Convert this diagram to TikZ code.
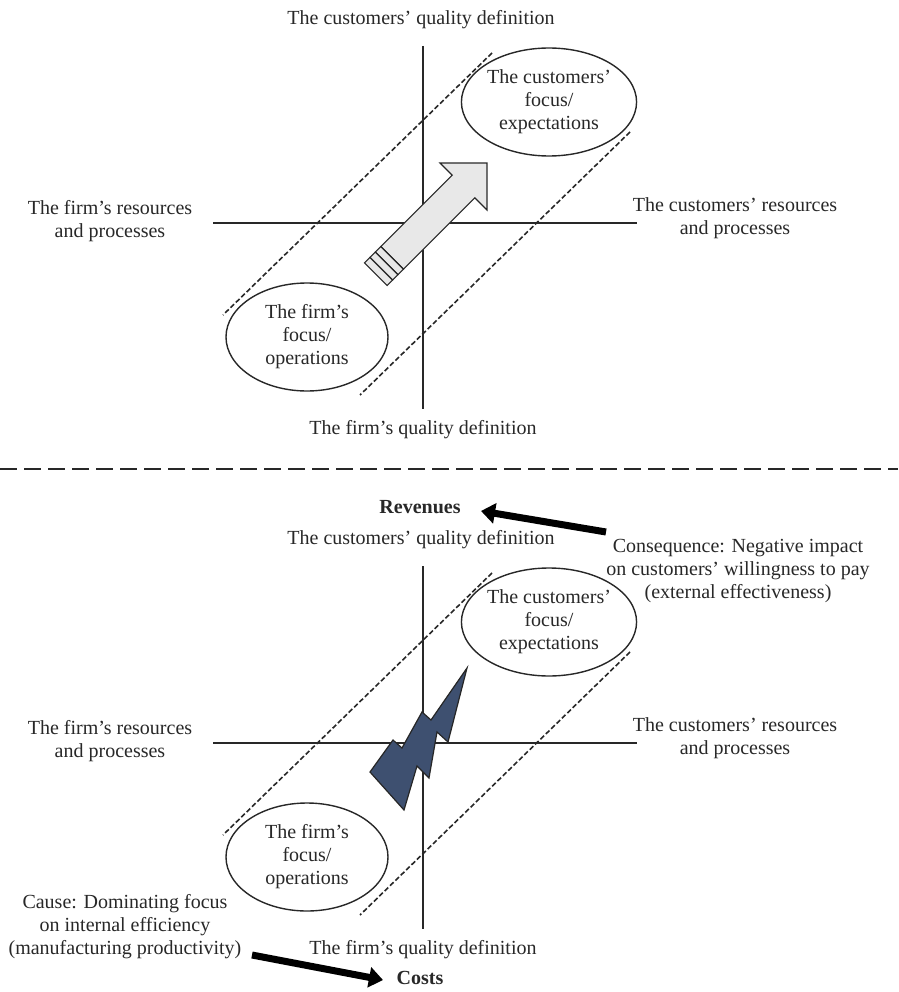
\documentclass[tikz,border=0pt]{standalone}
\usepackage{fontspec}
\setmainfont{Liberation Serif}
\usetikzlibrary{arrows.meta,shapes.geometric}
\definecolor{ink}{RGB}{40,40,40}
\definecolor{boltblue}{RGB}{62,80,112}
\definecolor{arrowgray}{RGB}{232,232,232}
\begin{document}
\begin{tikzpicture}[x=1pt,y=-1pt,
  font=\fontsize{20}{23}\selectfont,
  axis/.style={draw=ink,line width=1.4pt},
  diag/.style={draw=ink,line width=1.6pt,dash pattern=on 5pt off 2.5pt},
  sepline/.style={draw=ink,line width=1.4pt,dash pattern=on 17pt off 7pt},
  focus/.style={ellipse,draw=ink,line width=1.4pt,minimum width=162pt,minimum height=108pt,inner sep=0pt,align=center,text=ink},
  lbl/.style={align=center,text=ink,inner sep=0pt},
  arrowbody/.style={draw=ink,fill=arrowgray,line width=1.2pt,line join=miter},
  boltshape/.style={draw=black!85,fill=boltblue,line width=1.2pt,line join=miter},
  bigarrow/.style={draw=black,line width=7pt,-{Triangle[length=14pt,width=20pt]}}]
\useasboundingbox (0,0) rectangle (898,992);
\fill[white] (0,0) rectangle (898,992);

\foreach \s/\q in {0/t,520/b}{
  \begin{scope}[yshift=-\s pt]
    \coordinate (\q vt) at (423,46);
    \coordinate (\q vb) at (423,409);
    \coordinate (\q hl) at (213,223);
    \coordinate (\q hr) at (637,223);
    \coordinate (\q da) at (492,53);
    \coordinate (\q db) at (223,315);
    \coordinate (\q dc) at (630,132);
    \coordinate (\q dd) at (360,395);
    \draw[axis] (\q vt) -- (\q vb);
    \draw[axis] (\q hl) -- (\q hr);
    \draw[diag] (\q da) -- (\q db);
    \draw[diag] (\q dc) -- (\q dd);
    \node[focus,fill=white] (\q cust) at (549,102) {The customers’\\focus/\\expectations};
    \node[focus,fill=white] (\q firm) at (307,337) {The firm’s\\focus/\\operations};
    \node[lbl] (\q top) at (421,20) {The customers’ quality definition};
    \node[lbl] (\q bot) at (423,430) {The firm’s quality definition};
    \node[lbl] (\q left) at (110,221) {The firm’s resources\\and processes};
    \node[lbl] (\q right) at (735,218) {The customers’ resources\\and processes};
  \end{scope}
}

% top: striped block arrow
\begin{scope}[shift={(463.5,186.5)},rotate=45]
  \draw[arrowbody] (33.2,0) -- (0,33.2) -- (0,16) -- (-101,16) -- (-101,-16) -- (0,-16) -- (0,-33.2) -- cycle;
  \draw[arrowbody] (-101,-16) rectangle (-108.7,16);
  \draw[arrowbody] (-108.7,-16) rectangle (-116.3,16);
  \draw[arrowbody] (-116.3,-16) rectangle (-124,16);
\end{scope}

% separator
\coordinate (sepL) at (0,469);
\coordinate (sepR) at (898,469);
\draw[sepline] (sepL) -- (sepR);

% bottom: lightning bolt
\draw[boltshape] (467,668) -- (448,742) -- (437,732) -- (429,778) -- (417,766) -- (404,810)
  -- (370,772) -- (393,740) -- (402,748) -- (422,712) -- (431,720) -- cycle;

% revenues / consequence
\node[lbl,font=\fontsize{20}{23}\selectfont\bfseries] (rev) at (420,507) {Revenues};
\node[lbl] (cons) at (738,571) {Consequence: Negative impact\\on customers’ willingness to pay\\(external effectiveness)};
\coordinate (revtail) at (606,532);
\coordinate (revtip) at (481,511);
\draw[bigarrow] (revtail) -- (revtip);

% costs / cause
\node[lbl] (cause) at (125,927) {Cause: Dominating focus\\on internal efficiency\\(manufacturing productivity)};
\node[lbl,font=\fontsize{20}{23}\selectfont\bfseries] (costs) at (420,978) {Costs};
\coordinate (costtail) at (252,955);
\coordinate (costtip) at (383,980);
\draw[bigarrow] (costtail) -- (costtip);
\end{tikzpicture}
\end{document}
